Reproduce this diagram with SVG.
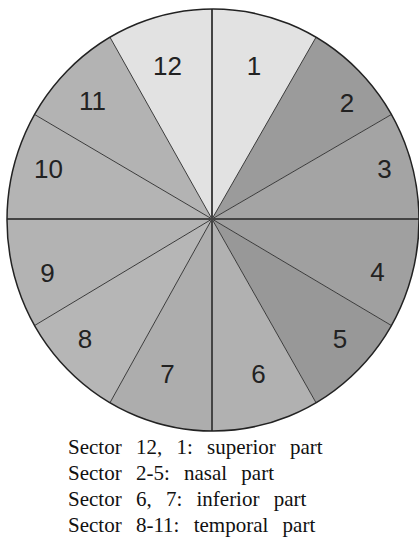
<svg xmlns="http://www.w3.org/2000/svg" width="419" height="540" viewBox="0 0 419 540">
<style>
.lbl{font-family:"Liberation Sans",Arial,sans-serif;font-size:26px;fill:#222;text-anchor:middle}
.cap{font-family:"Liberation Serif","Times New Roman",serif;font-size:21px;fill:#111;word-spacing:9px}
.spoke{stroke:#3a3a3a;stroke-width:1;fill:none}
.axis{stroke:#444;stroke-width:2;fill:none}
</style>
<rect width="419" height="540" fill="#fff"/>
<g id="sector1"><path d="M212 219 L213 9 A206 211 0 0 1 316 37.3 Z" fill="#e2e2e2"/><text class="lbl" x="254" y="75">1</text></g>
<g id="sector2"><path d="M212 219 L316 37.3 A206 211 0 0 1 391.4 114.5 Z" fill="#9b9b9b"/><text class="lbl" x="347" y="112">2</text></g>
<g id="sector3"><path d="M212 219 L391.4 114.5 A206 211 0 0 1 419 220 Z" fill="#a4a4a4"/><text class="lbl" x="384.5" y="178">3</text></g>
<g id="sector4"><path d="M212 219 L419 220 A206 211 0 0 1 391.4 325.5 Z" fill="#a0a0a0"/><text class="lbl" x="377.5" y="281">4</text></g>
<g id="sector5"><path d="M212 219 L391.4 325.5 A206 211 0 0 1 316 402.7 Z" fill="#989898"/><text class="lbl" x="340" y="348">5</text></g>
<g id="sector6"><path d="M212 219 L316 402.7 A206 211 0 0 1 213 431 Z" fill="#b1b1b1"/><text class="lbl" x="258.5" y="383">6</text></g>
<g id="sector7"><path d="M212 219 L213 431 A206 211 0 0 1 110 402.7 Z" fill="#adadad"/><text class="lbl" x="167.5" y="383">7</text></g>
<g id="sector8"><path d="M212 219 L110 402.7 A206 211 0 0 1 34.6 325.5 Z" fill="#b6b6b6"/><text class="lbl" x="85" y="348">8</text></g>
<g id="sector9"><path d="M212 219 L34.6 325.5 A206 211 0 0 1 7 220 Z" fill="#b3b3b3"/><text class="lbl" x="47.5" y="282">9</text></g>
<g id="sector10"><path d="M212 219 L7 220 A206 211 0 0 1 34.6 114.5 Z" fill="#b4b4b4"/><text class="lbl" x="48.5" y="178">10</text></g>
<g id="sector11"><path d="M212 219 L34.6 114.5 A206 211 0 0 1 110 37.3 Z" fill="#b3b3b3"/><text class="lbl" x="92.5" y="110">11</text></g>
<g id="sector12"><path d="M212 219 L110 37.3 A206 211 0 0 1 213 9 Z" fill="#e2e2e2"/><text class="lbl" x="167.5" y="75">12</text></g>
<g id="lines">
<line class="spoke" x1="212" y1="219" x2="316" y2="37.3"/>
<line class="spoke" x1="212" y1="219" x2="391.4" y2="114.5"/>
<line class="spoke" x1="212" y1="219" x2="391.4" y2="325.5"/>
<line class="spoke" x1="212" y1="219" x2="316" y2="402.7"/>
<line class="spoke" x1="212" y1="219" x2="110" y2="402.7"/>
<line class="spoke" x1="212" y1="219" x2="34.6" y2="325.5"/>
<line class="spoke" x1="212" y1="219" x2="34.6" y2="114.5"/>
<line class="spoke" x1="212" y1="219" x2="110" y2="37.3"/>
<line class="axis" x1="212" y1="9" x2="212" y2="431"/>
<line class="axis" x1="7" y1="219" x2="419" y2="219"/>
<ellipse cx="213" cy="220" rx="206" ry="211" fill="none" stroke="#222" stroke-width="1.5"/>
</g>
<g id="caption">
<text class="cap" x="68" y="454">Sector 12, 1: superior part</text>
<text class="cap" x="68" y="480">Sector 2-5: nasal part</text>
<text class="cap" x="68" y="506">Sector 6, 7: inferior part</text>
<text class="cap" x="68" y="532">Sector 8-11: temporal part</text>
</g>
</svg>
